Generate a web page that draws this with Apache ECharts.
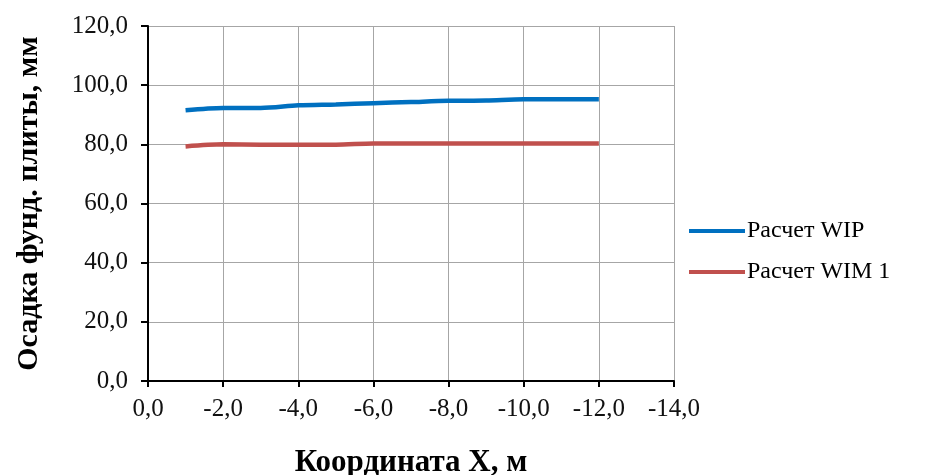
<!DOCTYPE html>
<html>
<head>
<meta charset="utf-8">
<script src="https://cdn.jsdelivr.net/npm/echarts@6/dist/echarts.min.js"></script>
<style>html,body{margin:0;padding:0;background:#fff}#c{width:925px;height:475px}</style>
</head>
<body>
<div id="c"></div>
<script>
const xCoords = [-1, -2, -3, -4, -5, -6, -7, -8, -9, -10, -11, -12];
const wipValues = [91.5, 92.3, 92.3, 93.2, 93.5, 93.9, 94.3, 94.7, 94.8, 95.2, 95.2, 95.2];
const wimValues = [79.3, 80.0, 79.9, 79.9, 79.9, 80.3, 80.3, 80.3, 80.3, 80.3, 80.3, 80.3];
const seriesNames = ['Расчет WIP', 'Расчет WIM 1'];
const xTitle = 'Координата X, м';
const yTitle = 'Осадка фунд. плиты, мм';

const fmt = v => v.toFixed(1).replace('.', ',');
const font = 'Liberation Serif, Times New Roman, serif';
const chart = echarts.init(document.getElementById('c'), null, {renderer: 'canvas'});
chart.setOption({
  animation: false,
  backgroundColor: '#fff',
  grid: {left: 148, right: 251, top: 26, bottom: 94, containLabel: false, outerBoundsMode: 'none'},
  legend: {
    orient: 'vertical', left: 684, top: 214,
    itemWidth: 56, itemHeight: 4, itemGap: 17, icon: 'rect',
    textStyle: {fontFamily: font, fontSize: 24, color: '#000', padding: [0, 0, 0, -3]},
    data: seriesNames
  },
  xAxis: {
    type: 'value', min: -14, max: 0, interval: 2, inverse: true,
    name: xTitle, nameLocation: 'middle', nameGap: 66,
    nameTextStyle: {fontFamily: font, fontSize: 31, fontWeight: 'bold', color: '#000'},
    axisLine: {show: true, onZero: false, lineStyle: {color: '#000', width: 2}},
    axisTick: {show: true, length: 6, lineStyle: {color: '#000', width: 2}},
    axisLabel: {formatter: fmt, fontFamily: font, fontSize: 25, color: '#111', margin: 16},
    splitLine: {show: true, lineStyle: {color: '#a6a6a6', width: 1}}
  },
  yAxis: {
    type: 'value', min: 0, max: 120, interval: 20,
    name: yTitle, nameLocation: 'middle', nameGap: 104,
    nameTextStyle: {fontFamily: font, fontSize: 30, fontWeight: 'bold', color: '#000'},
    axisLine: {show: true, lineStyle: {color: '#000', width: 2}},
    axisTick: {show: true, length: 7, lineStyle: {color: '#000', width: 2}},
    axisLabel: {formatter: fmt, fontFamily: font, fontSize: 25, color: '#111', margin: 20},
    splitLine: {show: true, lineStyle: {color: '#a6a6a6', width: 1}}
  },
  series: [
    {name: seriesNames[0], type: 'line', symbol: 'none', smooth: 0.3,
     itemStyle: {color: '#0070c0'}, lineStyle: {color: '#0070c0', width: 4.5},
     data: xCoords.map((x, i) => [x, wipValues[i]])},
    {name: seriesNames[1], type: 'line', symbol: 'none', smooth: 0.3,
     itemStyle: {color: '#c0504d'}, lineStyle: {color: '#c0504d', width: 4.5},
     data: xCoords.map((x, i) => [x, wimValues[i]])}
  ]
});
</script>
</body>
</html>
